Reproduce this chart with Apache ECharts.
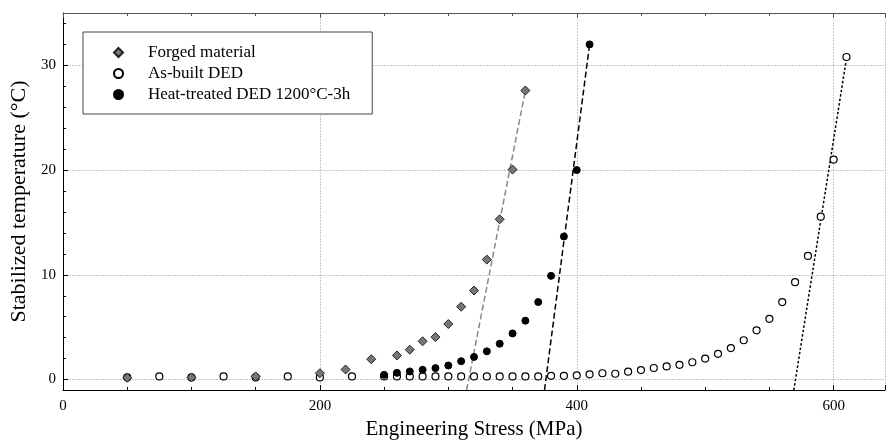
<!DOCTYPE html>
<html><head><meta charset="utf-8">
<script src="https://cdn.jsdelivr.net/npm/echarts@6/dist/echarts.min.js"></script>
<style>html,body{margin:0;padding:0;background:#fff}#c{width:886px;height:445px}</style>
</head><body><div id="c"></div>
<script>
const xTickValues = [0, 200, 400, 600];
const yTickLabels = [0, 10, 20, 30];
const yMinorTicks = [2, 4, 6, 8, 12, 14, 16, 18, 22, 24, 26, 28, 32, 34];

const forgedStress = [50,100,150,200,220,240,260,270,280,290,300,310,320,330,340,350,360];
const forgedTemp   = [0.17,0.2,0.3,0.6,0.96,1.94,2.3,2.85,3.65,4.05,5.3,6.95,8.5,11.45,15.3,20.05,27.6];

const asBuiltStress = [50,75,100,125,150,175,200,225,250,260,270,280,290,300,310,320,330,340,350,360,370,380,390,400,410,420,430,440,450,460,470,480,490,500,510,520,530,540,550,560,570,580,590,600,610];
const asBuiltTemp   = [0.2,0.3,0.2,0.3,0.2,0.3,0.2,0.3,0.3,0.3,0.3,0.3,0.3,0.3,0.3,0.3,0.3,0.3,0.3,0.3,0.3,0.35,0.35,0.4,0.5,0.6,0.55,0.75,0.9,1.1,1.25,1.4,1.65,2.0,2.45,3.0,3.75,4.7,5.8,7.4,9.3,11.8,15.55,21.0,30.8];

const heatStress = [250,260,270,280,290,300,310,320,330,340,350,360,370,380,390,400,410];
const heatTemp   = [0.45,0.64,0.77,0.93,1.09,1.34,1.75,2.16,2.69,3.42,4.4,5.62,7.4,9.9,13.66,20.0,32.0];

const forgedFitStress = [314.2, 360];
const forgedFitTemp   = [-1, 27.6];
const heatFitStress   = [374.9, 410];
const heatFitTemp     = [-1, 32.0];
const asBuiltFitStress = [569, 610.2];
const asBuiltFitTemp   = [-1, 30.8];

const names = ['Forged material', 'As-built DED', 'Heat-treated DED 1200°C-3h'];
const pairs = (xs, ys) => xs.map((x, i) => [x, ys[i]]);

const font = 'Liberation Serif';
const chart = echarts.init(document.getElementById('c'));
chart.setOption({
  animation: false,
  backgroundColor: '#fff',
  textStyle: { fontFamily: font, color: '#000' },
  grid: { left: 63, right: 1, top: 13, bottom: 52 },
  legend: {
    data: names,
    orient: 'vertical',
    left: 83, top: 32,
    padding: [12, 22, 11, 30],
    itemWidth: 9, itemHeight: 9, itemGap: 4,
    borderColor: '#444', borderWidth: 1,
    backgroundColor: '#fff',
    textStyle: { fontFamily: font, fontSize: 17, color: '#000', padding: [0, 0, 0, 20] }
  },
  xAxis: [{
    type: 'value', min: 0, max: 640, interval: 200,
    name: 'Engineering Stress (MPa)', nameLocation: 'middle', nameGap: 29,
    nameTextStyle: { fontFamily: font, fontSize: 21, color: '#000' },
    axisLine: { show: true, onZero: false, lineStyle: { color: '#000', width: 1 } },
    axisTick: { show: true, inside: true, length: 5, lineStyle: { color: '#000' } },
    minorTick: { show: true, splitNumber: 4, length: 3, lineStyle: { color: '#000' } },
    axisLabel: { fontFamily: font, fontSize: 15, color: '#000', margin: 9,
      customValues: xTickValues },
    splitLine: { show: true, lineStyle: { color: '#c8c8c8', type: [2, 1], width: 1 } }
  }, {
    type: 'value', min: 0, max: 640, interval: 200, position: 'top',
    axisLine: { show: true, onZero: false, lineStyle: { color: '#555', width: 1 } },
    axisTick: { show: true, inside: true, length: 5, lineStyle: { color: '#555' } },
    minorTick: { show: true, splitNumber: 4, length: 3, lineStyle: { color: '#555' } },
    axisLabel: { show: false },
    splitLine: { show: false }
  }],
  yAxis: [{
    type: 'value', min: -1, max: 35,
    name: 'Stabilized temperature (°C)', nameLocation: 'middle', nameGap: 30,
    nameTextStyle: { fontFamily: font, fontSize: 22, color: '#000' },
    axisLine: { show: true, onZero: false, lineStyle: { color: '#000', width: 1 } },
    axisTick: { show: true, inside: true, length: 5, customValues: yTickLabels, lineStyle: { color: '#000' } },
    axisLabel: { fontFamily: font, fontSize: 15, color: '#000', margin: 7, customValues: yTickLabels },
    splitLine: { show: true, lineStyle: { color: '#c8c8c8', type: [2, 1], width: 1 } }
  }, {
    type: 'value', min: -1, max: 35, position: 'left',
    axisLine: { show: false },
    axisTick: { show: true, inside: true, length: 3, customValues: yMinorTicks, lineStyle: { color: '#000' } },
    axisLabel: { show: false, customValues: yMinorTicks },
    splitLine: { show: false }
  }],
  series: [
    { type: 'line', name: 'fit1', data: pairs(forgedFitStress, forgedFitTemp), symbol: 'none', silent: true,
      lineStyle: { color: '#888', width: 1.5, type: [6, 3] }, z: 1 },
    { type: 'line', name: 'fit2', data: pairs(heatFitStress, heatFitTemp), symbol: 'none', silent: true,
      lineStyle: { color: '#000', width: 1.5, type: [6, 3] }, z: 1 },
    { type: 'line', name: 'fit3', data: pairs(asBuiltFitStress, asBuiltFitTemp), symbol: 'none', silent: true,
      lineStyle: { color: '#000', width: 1.5, type: [2.5, 2] }, z: 1 },
    { type: 'scatter', name: names[1], data: pairs(asBuiltStress, asBuiltTemp), symbol: 'circle', symbolSize: 7,
      itemStyle: { color: '#fff', borderColor: '#000', borderWidth: 1.2, opacity: 1 }, z: 2 },
    { type: 'scatter', name: names[2], data: pairs(heatStress, heatTemp), symbol: 'circle', symbolSize: 7,
      itemStyle: { color: '#000', borderColor: '#000', borderWidth: 1, opacity: 1 }, z: 3 },
    { type: 'scatter', name: names[0], data: pairs(forgedStress, forgedTemp), symbol: 'diamond', symbolSize: 9,
      itemStyle: { color: '#777', borderColor: '#222', borderWidth: 1, opacity: 1 }, z: 4 }
  ]
});
</script></body></html>
